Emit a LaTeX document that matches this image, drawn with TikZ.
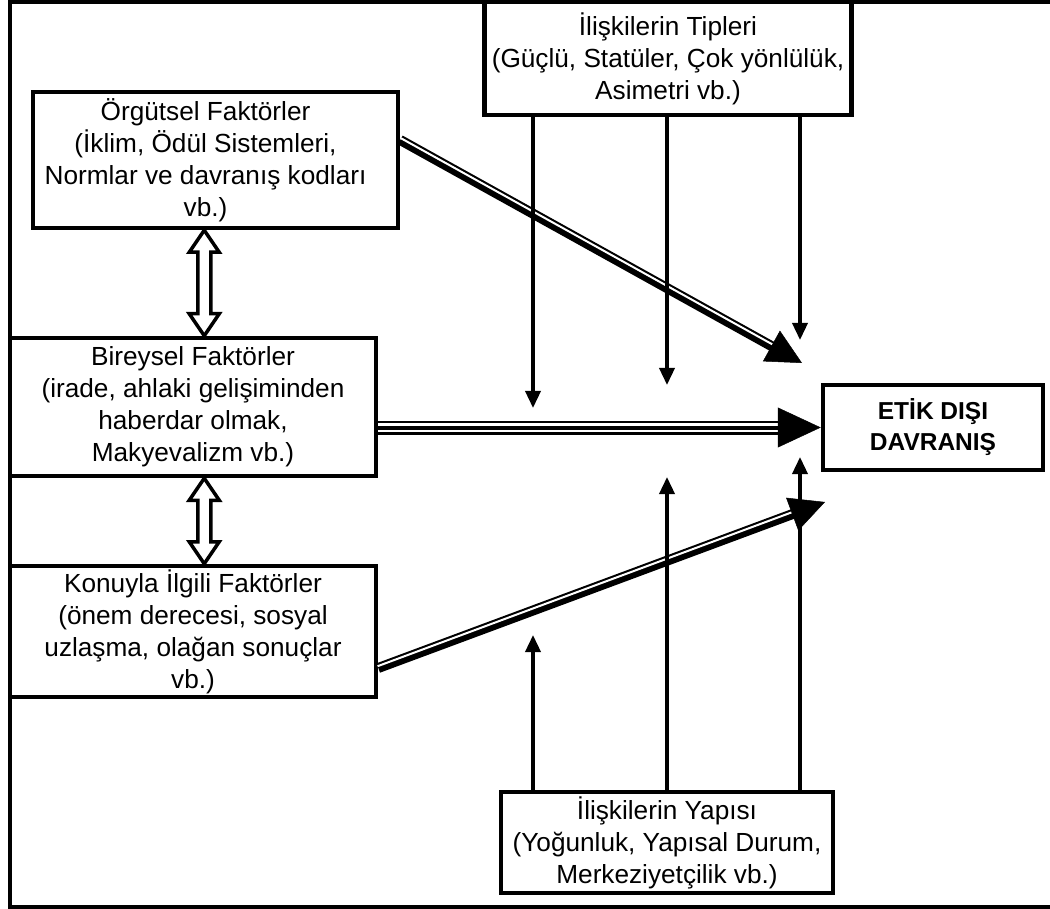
\documentclass[tikz,border=0pt]{standalone}
\usepackage{fontspec}
\setmainfont{Liberation Sans}
\usetikzlibrary{arrows.meta,calc}
\begin{document}
\begin{tikzpicture}[x=1pt,y=-1pt,
  box/.style={draw, line width=4.5pt, fill=white, align=center, inner sep=0pt,
    font=\fontsize{26.2}{32}\selectfont},
  label/.style={align=center, inner sep=0pt, font=\fontsize{26.2}{32}\selectfont},
  thin arrow/.style={line width=3.5pt, -{Triangle[length=17pt,width=15pt]}},
  hollow/.style={draw, line width=3.5pt, fill=white, line join=miter},
  band/.style={line width=10pt, shorten >=28pt},
  gap/.style={white, line width=2pt, shorten >=28pt},
  head/.style={line width=0.5pt, -{Triangle[length=35pt,width=35pt]}},
]
\useasboundingbox (0,0) rectangle (1050,909);

% outer frame, open towards the right edge
\draw[line width=4.5pt] (1060,2) -- (10,2) -- (10,907) -- (1060,907);

% factor boxes
\node[box, minimum width=365pt, minimum height=136pt] (org) at (215.5,160) {};
\node[label] (orgtext) at ([xshift=-10pt]org.center)
  {Örgütsel Faktörler\\(İklim, Ödül Sistemleri,\\Normlar ve davranış kodları\\vb.)};
\node[box, minimum width=366pt, minimum height=138pt] (bir) at (193,407)
  {Bireysel Faktörler\\(irade, ahlaki gelişiminden\\haberdar olmak,\\Makyevalizm vb.)};
\node[box, minimum width=366pt, minimum height=131pt] (kon) at (193,631.5)
  {Konuyla İlgili Faktörler\\(önem derecesi, sosyal\\uzlaşma, olağan sonuçlar\\vb.)};
\node[box, minimum width=367pt, minimum height=113pt] (tipler) at (668,58.5)
  {İlişkilerin Tipleri\\(Güçlü, Statüler, Çok yönlülük,\\Asimetri vb.)};
\node[box, minimum width=332pt, minimum height=101pt] (yapi) at (667,842.5)
  {İlişkilerin Yapısı\\(Yoğunluk, Yapısal Durum,\\Merkeziyetçilik vb.)};
\node[box, minimum width=220pt, minimum height=85pt,
  font=\bfseries\fontsize{24.5}{31}\selectfont] (etik) at (933,427.5)
  {ETİK DIŞI\\DAVRANIŞ};

% end points of the arrows
\coordinate (s1) at ([yshift=20pt]org.east);
\coordinate (e1) at (802,363);
\coordinate (s2) at ([yshift=-36.5pt]kon.east);
\coordinate (e2) at (825,502);
\coordinate (d1) at (533,408);
\coordinate (d2) at (667,385);
\coordinate (d3) at (800,340);
\coordinate (u1) at (533,635);
\coordinate (u2) at (667,477);
\coordinate (u3) at (800,457);

% thick-thin arrow from the organisational factors
\draw[band] (s1) -- (e1);
\draw[gap] ($(s1)!1.9pt!90:(e1)$) -- ($(e1)!1.9pt!-90:(s1)$);
\draw[head] ($(e1)!40pt!(s1)$) -- (e1);

% thick-thin arrow from the issue-related factors
\draw[band] (s2) -- (e2);
\draw[gap] ($(s2)!1.9pt!90:(e2)$) -- ($(e2)!1.9pt!-90:(s2)$);
\draw[head] ($(e2)!40pt!(s2)$) -- (e2);

% triple-line arrow from the individual factors
\coordinate (s3) at (bir.east |- etik.west);
\draw[line width=14pt, shorten >=38pt] (s3) -- (etik.west);
\draw[white, line width=9pt, shorten >=38pt] (s3) -- (etik.west);
\draw[line width=4pt, shorten >=38pt] (s3) -- (etik.west);
\draw[line width=0.5pt, -{Triangle[length=43pt,width=40pt]}]
  ($(etik.west)!45pt!(s3)$) -- (etik.west);

% arrows from the types of relations
\draw[thin arrow] (tipler.south -| d1) -- (d1);
\draw[thin arrow] (tipler.south -| d2) -- (d2);
\draw[thin arrow] (tipler.south -| d3) -- (d3);

% arrows from the structure of relations
\draw[thin arrow] (yapi.north -| u1) -- (u1);
\draw[thin arrow] (yapi.north -| u2) -- (u2);
\draw[thin arrow] (yapi.north -| u3) -- (u3);

% hollow two-way arrows between the factor boxes
\coordinate (m1) at ($(org.south)!.5!(bir.north)$);
\draw[hollow] (m1 |- org.south) -- ++(15,22) -- ++(-8.5,0)
  -- ($(m1 |- bir.north)+(6.5,-22)$) -- ++(8.5,0) -- (m1 |- bir.north)
  -- ++(-15,-22) -- ++(8.5,0) -- ($(m1 |- org.south)+(-6.5,22)$)
  -- ++(-8.5,0) -- cycle;
\draw[hollow] (m1 |- bir.south) -- ++(15,22) -- ++(-8.5,0)
  -- ($(m1 |- kon.north)+(6.5,-22)$) -- ++(8.5,0) -- (m1 |- kon.north)
  -- ++(-15,-22) -- ++(8.5,0) -- ($(m1 |- bir.south)+(-6.5,22)$)
  -- ++(-8.5,0) -- cycle;
\end{tikzpicture}
\end{document}
